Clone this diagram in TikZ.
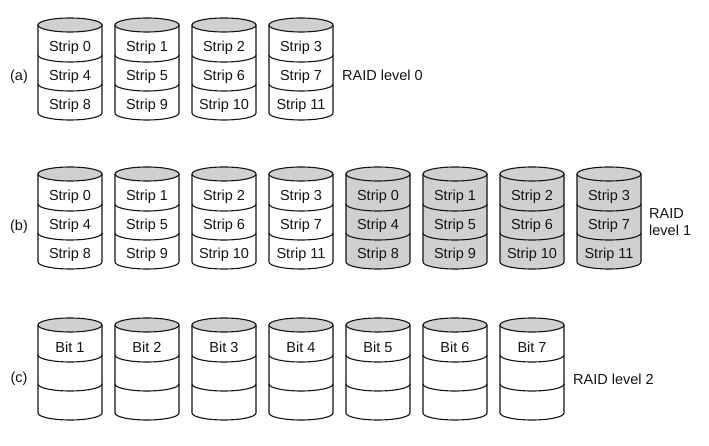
\documentclass[tikz,border=0pt]{standalone}
\usepackage{fontspec}
\setmainfont{Liberation Sans}
\definecolor{topgray}{RGB}{208,208,208}
\definecolor{inkc}{RGB}{20,20,20}
\tikzset{
  diskline/.style={draw=inkc, line width=1.1pt},
  disklabel/.style={font=\fontsize{14.5}{17}\selectfont, text=inkc, inner sep=0pt},
  sidelabel/.style={font=\fontsize{14.5}{17}\selectfont, text=inkc, inner sep=0pt, align=left},
}
% #1 name, #2 x0, #3 yc, #4 body fill, #5 #6 #7 labels
\newcommand\raiddisk[7]{%
  \begin{scope}[shift={(#2,#3)}]
    \fill[#4] (0,0) -- (0,-88) arc[start angle=180,end angle=360,x radius=32pt,y radius=7pt] -- (64,0) -- cycle;
    \draw[diskline] (0,0) -- (0,-88) arc[start angle=180,end angle=360,x radius=32pt,y radius=7pt] -- (64,0);
    \draw[diskline] (0,-30) arc[start angle=180,end angle=360,x radius=32pt,y radius=7pt];
    \draw[diskline] (0,-59) arc[start angle=180,end angle=360,x radius=32pt,y radius=7pt];
    \draw[diskline, fill=topgray] (32,0) ellipse [x radius=32pt, y radius=7pt];
    \node[disklabel] (#1-1) at (32,-22.5) {#5};
    \node[disklabel] (#1-2) at (32,-52) {#6};
    \node[disklabel] (#1-3) at (32,-81) {#7};
  \end{scope}}
\begin{document}
\begin{tikzpicture}[x=1pt,y=1pt]
\useasboundingbox (0,0) rectangle (709,446);
\fill[white] (0,0) rectangle (709,446);
% (a) RAID level 0
\raiddisk{a0}{38}{421}{white}{Strip 0}{Strip 4}{Strip 8}
\raiddisk{a1}{115}{421}{white}{Strip 1}{Strip 5}{Strip 9}
\raiddisk{a2}{192}{421}{white}{Strip 2}{Strip 6}{Strip 10}
\raiddisk{a3}{269}{421}{white}{Strip 3}{Strip 7}{Strip 11}
\node[sidelabel] (la) at (19,369) {(a)};
\node[sidelabel, anchor=west] (ra) at (342,371) {RAID level 0};
% (b) RAID level 1
\raiddisk{b0}{38}{272}{white}{Strip 0}{Strip 4}{Strip 8}
\raiddisk{b1}{115}{272}{white}{Strip 1}{Strip 5}{Strip 9}
\raiddisk{b2}{192}{272}{white}{Strip 2}{Strip 6}{Strip 10}
\raiddisk{b3}{269}{272}{white}{Strip 3}{Strip 7}{Strip 11}
\raiddisk{b4}{346}{272}{topgray}{Strip 0}{Strip 4}{Strip 8}
\raiddisk{b5}{423}{272}{topgray}{Strip 1}{Strip 5}{Strip 9}
\raiddisk{b6}{500}{272}{topgray}{Strip 2}{Strip 6}{Strip 10}
\raiddisk{b7}{577}{272}{topgray}{Strip 3}{Strip 7}{Strip 11}
\node[sidelabel] (lb) at (19,219) {(b)};
\node[sidelabel, anchor=west] (rb) at (649,224) {RAID\\level 1};
% (c) RAID level 2
\raiddisk{c0}{38}{121}{white}{Bit 1}{}{}
\raiddisk{c1}{115}{121}{white}{Bit 2}{}{}
\raiddisk{c2}{192}{121}{white}{Bit 3}{}{}
\raiddisk{c3}{269}{121}{white}{Bit 4}{}{}
\raiddisk{c4}{346}{121}{white}{Bit 5}{}{}
\raiddisk{c5}{423}{121}{white}{Bit 6}{}{}
\raiddisk{c6}{500}{121}{white}{Bit 7}{}{}
\node[sidelabel] (lc) at (19,67) {(c)};
\node[sidelabel, anchor=west] (rc) at (573,67) {RAID level 2};
\end{tikzpicture}
\end{document}
